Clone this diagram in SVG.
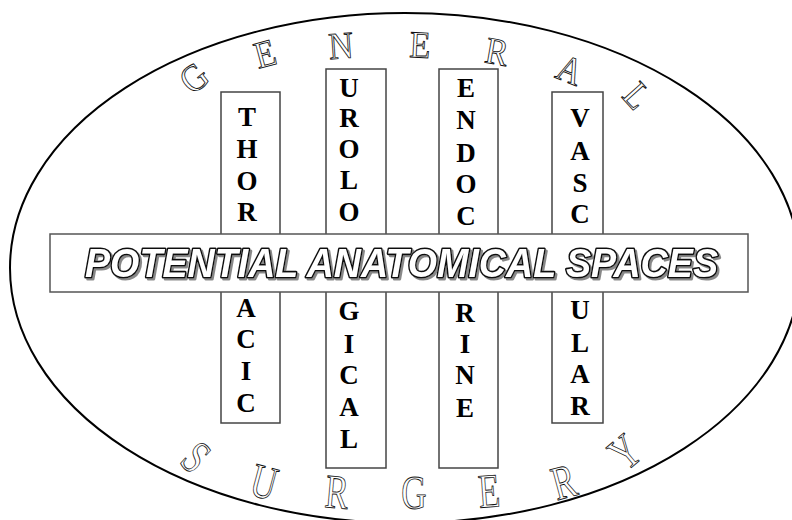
<svg xmlns="http://www.w3.org/2000/svg" width="792" height="520" viewBox="0 0 792 520">
<defs>
<filter id="shadow" x="-5%" y="-20%" width="110%" height="150%">
<feDropShadow dx="2" dy="2" stdDeviation="0.3" flood-color="#888" flood-opacity="1"/>
</filter>
</defs>
<style>
.bg{fill:#fff}
.oval{fill:#fff;stroke:#000;stroke-width:2}
.col{fill:#fff;stroke:#444;stroke-width:1.5}
.ban{fill:#fff;stroke:#555;stroke-width:1.5}
.lt{font-family:"Liberation Serif","Times New Roman",serif;font-weight:bold;font-size:27px;fill:#000;text-anchor:middle}
.arc{font-family:"Liberation Serif","Times New Roman",serif;font-size:38px;fill:#fff;stroke:#111;stroke-width:0.9;text-anchor:middle}
.arc2{font-family:"Liberation Serif","Times New Roman",serif;font-size:48px;fill:#fff;stroke:#111;stroke-width:0.9;text-anchor:middle}
.bt{font-family:"Liberation Sans",Arial,sans-serif;font-weight:bold;font-style:italic;font-size:41px;stroke-linejoin:round;fill:#fff;stroke:#111;stroke-width:3.2;paint-order:stroke}
</style>
<rect class="bg" x="0" y="0" width="792" height="520"/>
<ellipse id="oval" class="oval" cx="405" cy="268" rx="395" ry="255"/>

<g id="general">
<text class="arc" transform="translate(194,78) rotate(-38) scale(0.9,1)" y="12.5">G</text>
<text class="arc" transform="translate(265,54) rotate(-15) scale(0.9,1)" y="12.5">E</text>
<text class="arc" transform="translate(341,46) rotate(-4) scale(0.9,1)" y="12.5">N</text>
<text class="arc" transform="translate(420,45) rotate(3) scale(0.9,1)" y="12.5">E</text>
<text class="arc" transform="translate(497,52) rotate(10) scale(0.9,1)" y="12.5">R</text>
<text class="arc" transform="translate(570,70) rotate(22) scale(0.9,1)" y="12.5">A</text>
<text class="arc" transform="translate(637,96) rotate(48) scale(0.9,1)" y="12.5">L</text>
</g>

<g id="surgery">
<text class="arc2" transform="translate(196,457) rotate(42) scale(0.73,1)" y="16">S</text>
<text class="arc2" transform="translate(264,482) rotate(15) scale(0.73,1)" y="16">U</text>
<text class="arc2" transform="translate(337,492) rotate(5) scale(0.73,1)" y="16">R</text>
<text class="arc2" transform="translate(414,493) rotate(0) scale(0.73,1)" y="16">G</text>
<text class="arc2" transform="translate(489,491) rotate(-4) scale(0.73,1)" y="16">E</text>
<text class="arc2" transform="translate(564,482) rotate(-15) scale(0.73,1)" y="16">R</text>
<text class="arc2" transform="translate(625,452) rotate(-40) scale(0.73,1)" y="16">Y</text>
</g>

<g id="thoracic">
<rect class="col" x="221" y="92" width="59" height="331"/>
<text class="lt" x="247" y="126">T</text>
<text class="lt" x="247" y="158">H</text>
<text class="lt" x="247" y="190">O</text>
<text class="lt" x="247" y="221">R</text>
<text class="lt" x="246" y="317">A</text>
<text class="lt" x="246" y="348">C</text>
<text class="lt" x="246" y="380">I</text>
<text class="lt" x="246" y="412">C</text>
</g>

<g id="urological">
<rect class="col" x="326" y="69" width="60" height="399"/>
<text class="lt" x="349" y="97">U</text>
<text class="lt" x="349" y="127">R</text>
<text class="lt" x="349" y="158">O</text>
<text class="lt" x="349" y="189">L</text>
<text class="lt" x="349" y="221">O</text>
<text class="lt" x="349" y="320">G</text>
<text class="lt" x="349" y="353">I</text>
<text class="lt" x="349" y="384">C</text>
<text class="lt" x="349" y="416">A</text>
<text class="lt" x="349" y="448">L</text>
</g>

<g id="endocrine">
<rect class="col" x="439" y="69" width="59" height="399"/>
<text class="lt" x="466" y="97">E</text>
<text class="lt" x="466" y="129">N</text>
<text class="lt" x="466" y="162">D</text>
<text class="lt" x="466" y="193">O</text>
<text class="lt" x="466" y="225">C</text>
<text class="lt" x="465" y="322">R</text>
<text class="lt" x="465" y="353">I</text>
<text class="lt" x="465" y="384">N</text>
<text class="lt" x="465" y="417">E</text>
</g>

<g id="vascular">
<rect class="col" x="552" y="92" width="51" height="331"/>
<text class="lt" x="580" y="127">V</text>
<text class="lt" x="580" y="160">A</text>
<text class="lt" x="580" y="192">S</text>
<text class="lt" x="580" y="223">C</text>
<text class="lt" x="580" y="319">U</text>
<text class="lt" x="580" y="352">L</text>
<text class="lt" x="580" y="383">A</text>
<text class="lt" x="580" y="415">R</text>
</g>

<g id="banner">
<rect class="ban" x="50" y="234" width="698" height="58"/>
<text class="bt" filter="url(#shadow)" x="85" y="277" textLength="633" lengthAdjust="spacingAndGlyphs">POTENTIAL ANATOMICAL SPACES</text>
</g>
<g id="connectors"></g>
</svg>
